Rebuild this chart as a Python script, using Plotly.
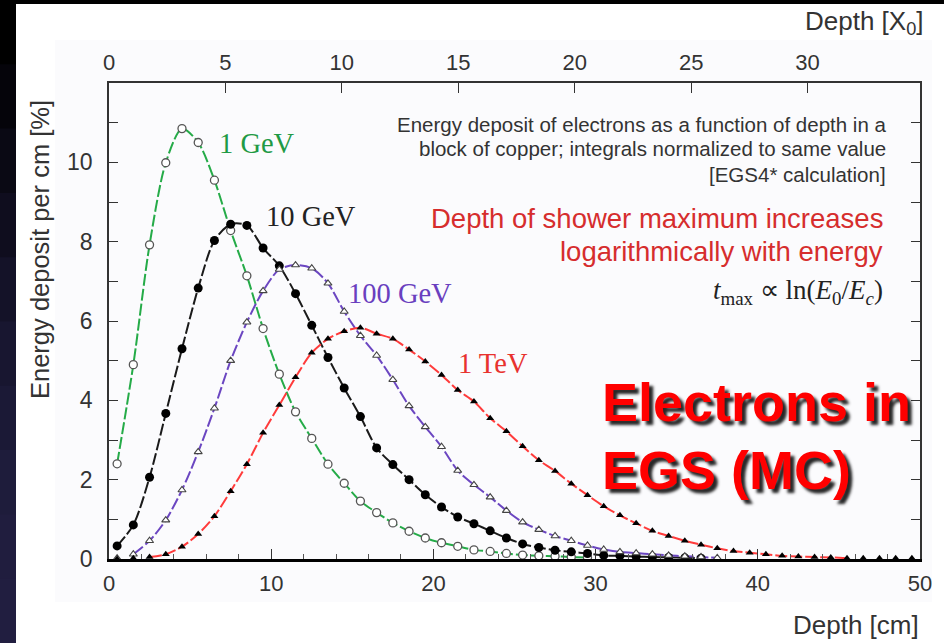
import plotly.graph_objects as go

# ---------------- data ----------------
depth_cm = [i + 0.5 for i in range(50)]          # bin centres, cm
X0_CU = 1.4356                                    # radiation length of copper, cm

gev1 = [2.40, 4.90, 7.92, 9.99, 10.85, 10.50, 9.55, 8.28, 7.14, 5.81,
        4.66, 3.71, 3.04, 2.39, 1.91, 1.46, 1.17, 0.91, 0.70, 0.53,
        0.41, 0.32, 0.23, 0.19, 0.14, 0.10, 0.08, 0.07, 0.05, 0.04]
gev10 = [0.33, 0.86, 2.06, 3.67, 5.30, 6.83, 8.03, 8.44, 8.41, 7.84,
         7.39, 6.69, 5.89, 5.08, 4.31, 3.59, 2.80, 2.38, 2.00, 1.62,
         1.31, 1.06, 0.89, 0.71, 0.53, 0.38, 0.29, 0.22, 0.18, 0.14,
         0.09, 0.08, 0.06, 0.05, 0.04, 0.03, 0.02]
gev100 = [0.02, 0.12, 0.46, 0.98, 1.74, 2.70, 3.80, 5.00, 5.97, 6.76,
          7.30, 7.41, 7.33, 6.95, 6.24, 5.63, 5.13, 4.52, 3.86, 3.33,
          2.83, 2.23, 1.87, 1.56, 1.22, 0.93, 0.74, 0.58, 0.46, 0.34,
          0.24, 0.18, 0.15, 0.12, 0.09, 0.07, 0.05, 0.03]
tev1 = [0.00, 0.02, 0.05, 0.12, 0.31, 0.63, 1.08, 1.71, 2.39, 3.18,
        3.88, 4.58, 5.20, 5.55, 5.74, 5.83, 5.68, 5.55, 5.28, 4.98,
        4.64, 4.26, 3.97, 3.55, 3.22, 2.84, 2.49, 2.22, 1.90, 1.61,
        1.33, 1.10, 0.90, 0.71, 0.58, 0.46, 0.36, 0.27, 0.20, 0.16,
        0.12, 0.08, 0.06, 0.05, 0.04, 0.02, 0.02, 0.02, 0.02, 0.02]

# first index of the drawn curve, last index of the drawn curve
curve_span = {"1 GeV": (0, 29), "10 GeV": (0, 36), "100 GeV": (1, 37), "1 TeV": (2, 45)}

x_major = [0, 10, 20, 30, 40, 50]
x0_ticks = [0, 5, 10, 15, 20, 25, 30]
y_labels = [0, 2, 4, 6, 8, 10]

# ---------------- layout helpers ----------------
W_FIG, H_FIG = 944, 643
L, R, T, B = 109, 24, 83, 84
PW, PH = W_FIG - L - R, H_FIG - T - B


def px(x):
    return (x - L) / PW


def py(y):
    return (H_FIG - B - y) / PH


fig = go.Figure()

series = [
    ("1 GeV", gev1, "#25ab48", dict(symbol="circle", size=8, color="white",
                                     line=dict(color="#555555", width=1.3))),
    ("10 GeV", gev10, "#1a1a1a", dict(symbol="circle", size=9, color="black",
                                       line=dict(color="black", width=0))),
    ("100 GeV", gev100, "#6b46c1", dict(symbol="triangle-up", size=7, color="white",
                                         line=dict(color="#444444", width=1.1))),
    ("1 TeV", tev1, "#ff3b3b", dict(symbol="triangle-up", size=7, color="black",
                                     line=dict(color="black", width=0))),
]

for name, vals, col, mk in series:
    i0, i1 = curve_span[name]
    fig.add_trace(go.Scatter(
        x=depth_cm[i0:i1 + 1], y=vals[i0:i1 + 1], mode="lines",
        line=dict(color=col, width=2, dash="12px,3px", shape="spline", smoothing=0.8),
        showlegend=False, hoverinfo="skip"))
for name, vals, col, mk in series:
    fig.add_trace(go.Scatter(
        x=depth_cm[:len(vals)], y=vals, mode="markers", marker=mk,
        name=name, showlegend=False))

# invisible trace to activate top axis
fig.add_trace(go.Scatter(x=[0], y=[0], xaxis="x2", mode="markers",
                         marker=dict(opacity=0), showlegend=False, hoverinfo="skip"))

sans = "Liberation Sans, Arial, sans-serif"
serif = "Liberation Serif, Times New Roman, serif"

fig.update_layout(
    width=W_FIG, height=H_FIG,
    margin=dict(l=L, r=R, t=T, b=B),
    paper_bgcolor="white",
    plot_bgcolor="rgba(0,0,0,0)",
    font=dict(family=sans, color="#333333"),
    xaxis=dict(range=[0, 50], tickvals=x_major, ticktext=[str(v) for v in x_major],
               ticks="inside", ticklen=10, tickwidth=1.2, tickcolor="#333",
               minor=dict(dtick=2, ticks="inside", ticklen=5, tickcolor="#555", tickwidth=1),
               showline=True, linecolor="black", linewidth=2.5, mirror=False,
               showgrid=False, zeroline=False,
               tickfont=dict(size=22, color="#333"), ticklabelstandoff=3),
    xaxis2=dict(range=[0, 50 / X0_CU], overlaying="x", side="top",
                tickvals=x0_ticks, ticktext=[str(v) for v in x0_ticks],
                ticks="inside", ticklen=10, tickwidth=1.2, tickcolor="#333",
                showline=True, linecolor="#333", linewidth=1.5,
                showgrid=False, zeroline=False,
                tickfont=dict(size=22, color="#333"), ticklabelstandoff=2),
    yaxis=dict(range=[0, 12], tickvals=y_labels, ticktext=[str(v) for v in y_labels],
               ticks="inside", ticklen=9, tickwidth=1.2, tickcolor="#333",
               minor=dict(dtick=1, ticks="inside", ticklen=9, tickcolor="#333", tickwidth=1.2),
               showline=True, linecolor="#333", linewidth=1.5, mirror="ticks",
               showgrid=False, zeroline=False,
               tickfont=dict(size=23, color="#333"), ticklabelstandoff=10),
)

# slide background: light inner panel
fig.add_shape(type="rect", xref="paper", yref="paper", x0=px(55), x1=px(932),
              y0=py(602), y1=py(40), fillcolor="#fbfbfd", line_width=0, layer="below")

# background strips (slide frame)
strip_cols = ["#000000", "#05040a", "#0a0914", "#0f0d1e", "#141228", "#181630",
              "#1b1936", "#1e1c3b", "#201d3e", "#211e40"]
n = len(strip_cols)
for k, c in enumerate(strip_cols):
    fig.add_shape(type="rect", xref="paper", yref="paper",
                  x0=px(0), x1=px(16), y0=py(643 * (k + 1) / n + 2), y1=py(643 * k / n),
                  fillcolor=c, line_width=0, layer="above")
fig.add_shape(type="rect", xref="paper", yref="paper", x0=px(0), x1=px(944),
              y0=py(4), y1=py(0), fillcolor="black", line_width=0, layer="above")

ann = []


def text(x, y, s, size, color, family=sans, xanchor="left", **kw):
    ann.append(dict(x=px(x), y=py(y), xref="paper", yref="paper", text=s,
                    showarrow=False, xanchor=xanchor, yanchor="middle",
                    font=dict(size=size, color=color, family=family, **kw)))


# axis titles
text(921, 625, "Depth [cm]", 26, "#333", xanchor="right")
text(926, 22, "Depth [X<sub>0</sub>]", 26, "#333", xanchor="right")
ann.append(dict(x=px(40), y=py(250), xref="paper", yref="paper",
                text="Energy deposit per cm [%]", textangle=-90, showarrow=False,
                xanchor="center", yanchor="middle",
                font=dict(size=25.5, color="#333", family=sans)))

# curve labels
text(217, 143, "1 GeV", 28.5, "#1f9a45", family=serif)
text(264, 216, "10 GeV", 28.5, "#222222", family=serif)
text(346, 293, "100 GeV", 28.5, "#6a3fbf", family=serif)
text(456, 363, "1 TeV", 28.5, "#e8322e", family=serif)

# description block
text(888, 124, "Energy deposit of electrons as a function of depth in a", 20.5, "#333", xanchor="right")
text(888, 149, "block of copper; integrals normalized to same value", 20.5, "#333", xanchor="right")
text(888, 174, "[EGS4* calculation]", 20.5, "#333", xanchor="right")
text(885, 218, "Depth of shower maximum increases", 27.5, "#d62d2d", xanchor="right")
text(885, 252, "logarithmically with energy", 27.5, "#d62d2d", xanchor="right")
text(885, 292, "<i>t</i><sub>max</sub> \u221d ln(<i>E</i><sub>0</sub>/<i>E<sub>c</sub></i>)",
     27, "#222", family=serif, xanchor="right")

# big title
text(600, 402, "<b>Electrons in</b>", 54, "#ff0000",
     shadow="4px 4px 3px rgba(0,0,0,0.85)")
text(600, 470, "<b>EGS (MC)</b>", 54, "#ff0000",
     shadow="4px 4px 3px rgba(0,0,0,0.85)")

fig.update_layout(annotations=ann)
fig.write_html("out.html")
